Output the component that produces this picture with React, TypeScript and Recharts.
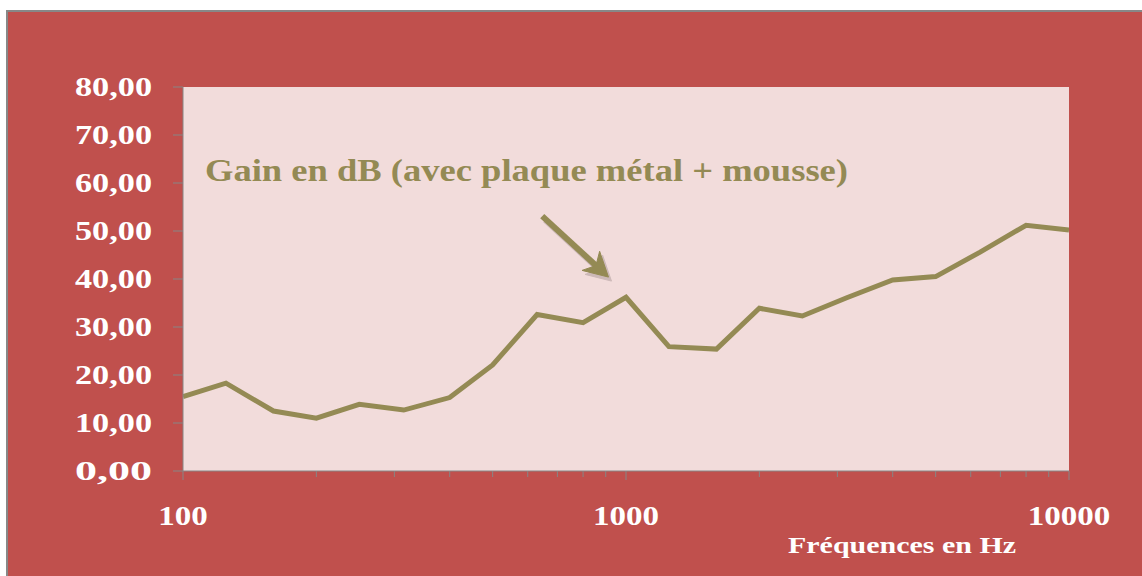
import { LineChart, Line, XAxis, YAxis, CartesianGrid, ReferenceLine } from "recharts"

// third-octave frequencies (Hz) and measured gain (dB)
const frequencies = [100, 125, 160, 200, 250, 315, 400, 500, 630, 800, 1000, 1250, 1600, 2000, 2500, 3150, 4000, 5000, 6300, 8000, 10000]
const gains = [15.5, 18.3, 12.5, 11.0, 13.9, 12.7, 15.3, 22.1, 32.6, 30.9, 36.2, 25.9, 25.4, 33.9, 32.3, 36.1, 39.8, 40.5, 45.6, 51.2, 50.2]

const xTicks = [100, 200, 300, 400, 500, 600, 700, 800, 900, 1000, 2000, 3000, 4000, 5000, 6000, 7000, 8000, 9000, 10000]
const xLabels = [100, 1000, 10000]
const yTicks = [0, 10, 20, 30, 40, 50, 60, 70, 80]

const title = "Gain en dB (avec plaque métal + mousse)"
const xTitle = "Fréquences en Hz"

// annotation arrow, in data coordinates
const arrowFrom = { f: 647, g: 53.1 }
const arrowTo = { f: 913, g: 40.4 }

const data = frequencies.map((f, i) => ({ f, gain: gains[i] }))

const OLIVE = "#948A54"
const AXIS = "#868686"
const FONT = "'Liberation Serif', 'Times New Roman', serif"

function XTick({ x, y, payload }: any) {
  const major = xLabels.includes(payload.value)
  const label = String(payload.value)
  return (
    <g>
      <line x1={x} x2={x} y1={y} y2={y + (major ? 9 : 6)} stroke={AXIS} strokeWidth={1} />
      {major && (
        <text
          x={x}
          y={y + 54}
          textAnchor="middle"
          fill="#fff"
          fontFamily={FONT}
          fontWeight="bold"
          fontSize={27}
          textLength={label.length * 16.5}
          lengthAdjust="spacingAndGlyphs"
        >
          {label}
        </text>
      )}
    </g>
  )
}

function YTick({ x, y, payload }: any) {
  const label = payload.value.toFixed(2).replace(".", ",")
  return (
    <g>
      <line x1={x - 10} x2={x} y1={y} y2={y} stroke={AXIS} strokeWidth={1} />
      <text
        x={x - 31}
        y={y}
        dy={9}
        textAnchor="end"
        fill="#fff"
        fontFamily={FONT}
        fontWeight="bold"
        fontSize={28}
        textLength={77}
        lengthAdjust="spacingAndGlyphs"
      >
        {label}
      </text>
    </g>
  )
}

function Arrow({ x1, y1, x2, y2 }: any) {
  const dx = x2 - x1
  const dy = y2 - y1
  const len = Math.sqrt(dx * dx + dy * dy)
  const ux = dx / len
  const uy = dy / len
  const head = 24
  const half = 13
  const bx = x2 - ux * head
  const by = y2 - uy * head
  const pts = `${x2},${y2} ${bx - uy * half},${by + ux * half} ${bx + ux * 7},${by + uy * 7} ${bx + uy * half},${by - ux * half}`
  const body = (
    <>
      <line x1={x1} y1={y1} x2={bx + ux * 8} y2={by + uy * 8} strokeWidth={6} strokeLinecap="butt" />
      <polygon points={pts} />
    </>
  )
  return (
    <g>
      <g transform="translate(3,4)" stroke="#8a7a7a" fill="#8a7a7a" opacity={0.35}>
        {body}
      </g>
      <g stroke={OLIVE} fill={OLIVE}>
        {body}
      </g>
    </g>
  )
}

export default function App() {
  return (
    <div style={{ position: "absolute", left: 0, top: 0, width: 1142, height: 576, overflow: "hidden", background: "#fff" }}>
      <div
        style={{
          position: "absolute",
          left: 6,
          top: 10,
          width: 1136,
          height: 566,
          background: "#C0504D",
          borderLeft: "2px solid #888",
          borderTop: "2px solid #888",
          boxSizing: "border-box",
        }}
      />
      <div style={{ position: "absolute", left: 0, top: 0 }}>
        <LineChart width={1142} height={576} data={data} margin={{ top: 87, right: 73, bottom: 45, left: 0 }}>
          <CartesianGrid horizontal={false} vertical={false} fill="#F2DCDB" stroke="none" />
          <XAxis
            dataKey="f"
            type="number"
            scale="log"
            domain={[100, 10000]}
            ticks={xTicks}
            interval={0}
            height={60}
            tickSize={0}
            tickMargin={0}
            tickLine={false}
            axisLine={{ stroke: AXIS, strokeWidth: 1 }}
            tick={<XTick />}
            allowDataOverflow
          />
          <YAxis
            domain={[0, 80]}
            ticks={yTicks}
            interval={0}
            width={183}
            tickSize={0}
            tickMargin={0}
            tickLine={false}
            axisLine={{ stroke: AXIS, strokeWidth: 1 }}
            tick={<YTick />}
          />
          <Line
            dataKey="gain"
            type="linear"
            stroke={OLIVE}
            strokeWidth={5}
            dot={false}
            activeDot={false}
            isAnimationActive={false}
          />
          <ReferenceLine
            segment={[
              { x: arrowFrom.f, y: arrowFrom.g },
              { x: arrowTo.f, y: arrowTo.g },
            ]}
            shape={<Arrow />}
            ifOverflow="visible"
          />
        </LineChart>
      </div>
      <svg style={{ position: "absolute", left: 0, top: 0, pointerEvents: "none" }} width={1142} height={576}>
        <text
          x={205}
          y={181}
          fill={OLIVE}
          fontFamily={FONT}
          fontWeight="bold"
          fontSize={31}
          textLength={643}
          lengthAdjust="spacingAndGlyphs"
        >
          {title}
        </text>
        <text
          x={788}
          y={553}
          fill="#fff"
          fontFamily={FONT}
          fontWeight="bold"
          fontSize={24}
          textLength={228}
          lengthAdjust="spacingAndGlyphs"
        >
          {xTitle}
        </text>
      </svg>
    </div>
  )
}
